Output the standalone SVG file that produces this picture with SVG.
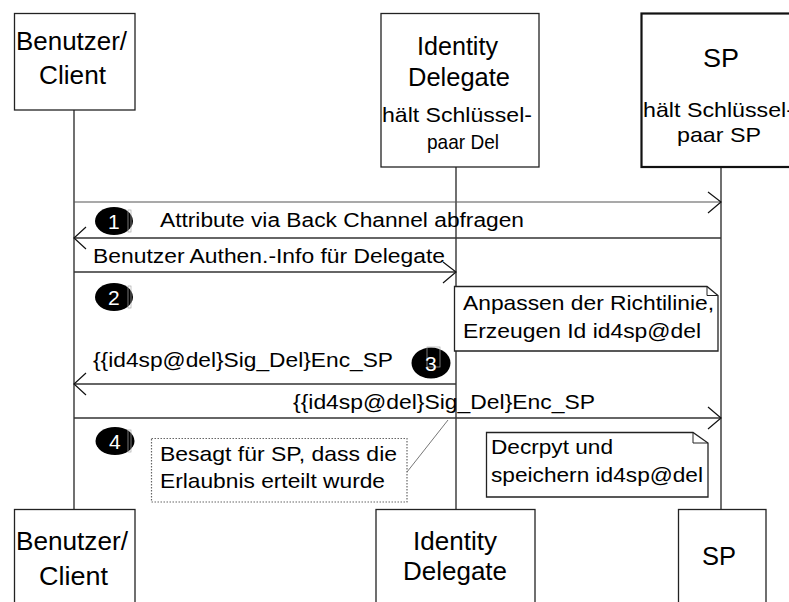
<svg xmlns="http://www.w3.org/2000/svg" width="789" height="602" viewBox="0 0 789 602">
<style>
text{font-family:"Liberation Sans",Arial,sans-serif;fill:#000}
.big{font-size:25px}
.sm{font-size:21px}
.msg{font-size:20px}
.note{font-size:21px}
.num{font-size:21px;fill:#fff}
.box{fill:#fff;stroke:#222;stroke-width:1.3}
.life{stroke:#111;stroke-width:1.2;fill:none}
.m{stroke:#333;stroke-width:1.6;fill:none}
.m1{stroke:#555;stroke-width:1.2;fill:none}
.ah{stroke:#111;stroke-width:1.2;fill:none}
.nt{fill:#fff;stroke:#222;stroke-width:1.3}
.dot{fill:#fff;stroke:#666;stroke-width:1.2;stroke-dasharray:1.5 1.5}
.badge{fill:#000}
.art{fill:none;stroke:#aaa;stroke-width:0.7}
</style>
<g id="lifelines">
<line class="life" x1="74" y1="110" x2="74" y2="509"/>
<line class="life" x1="456" y1="167" x2="456" y2="509"/>
<line class="life" x1="721" y1="167" x2="721" y2="509"/>
</g>
<g id="client-top">
<rect class="box" x="14.5" y="13.5" width="120.5" height="96.5"/>
<text class="big" x="16" y="50" textLength="111" lengthAdjust="spacingAndGlyphs">Benutzer/</text>
<text class="big" x="39" y="84" textLength="67" lengthAdjust="spacingAndGlyphs">Client</text>
</g>
<g id="delegate-top">
<rect class="box" x="381" y="13.5" width="158" height="153.5"/>
<text class="big" x="417" y="55" textLength="81" lengthAdjust="spacingAndGlyphs">Identity</text>
<text class="big" x="408" y="86" textLength="102" lengthAdjust="spacingAndGlyphs">Delegate</text>
<text class="sm" x="382" y="122" textLength="150" lengthAdjust="spacingAndGlyphs">hält Schlüssel-</text>
<text class="sm" x="427" y="149" textLength="72" lengthAdjust="spacingAndGlyphs">paar Del</text>
</g>
<g id="sp-top">
<rect class="box" x="641.5" y="13.5" width="160" height="153.5" style="stroke-width:2.2;stroke:#111"/>
<text class="big" x="703" y="67" textLength="36" lengthAdjust="spacingAndGlyphs">SP</text>
<text class="sm" x="643" y="117" textLength="151" lengthAdjust="spacingAndGlyphs">hält Schlüssel-</text>
<text class="sm" x="677" y="142" textLength="84" lengthAdjust="spacingAndGlyphs">paar SP</text>
</g>
<g id="connectors">
<line class="m1" x1="74" y1="202" x2="720" y2="202"/>
<polyline class="ah" points="708,192 721,202 708,213"/>
<line class="m" x1="721" y1="238" x2="75" y2="238"/>
<polyline class="ah" points="86,227 74,238 86,249"/>
<line class="m" x1="74" y1="272" x2="455" y2="272"/>
<polyline class="ah" points="443,262 456,272 443,283"/>
<line class="m" x1="456" y1="384" x2="75" y2="384"/>
<polyline class="ah" points="86,373 74,384 86,395"/>
<line class="m" x1="74" y1="418" x2="720" y2="418"/>
<polyline class="ah" points="708,407 721,418 708,429"/>
<line x1="448" y1="420" x2="407" y2="472" stroke="#777" stroke-width="1"/>
</g>
<g id="msg-labels">
<text class="msg" x="160" y="227" textLength="364" lengthAdjust="spacingAndGlyphs">Attribute via Back Channel abfragen</text>
<text class="msg" x="93" y="263" textLength="352" lengthAdjust="spacingAndGlyphs">Benutzer Authen.-Info für Delegate</text>
<text class="msg" x="93" y="367" textLength="300" lengthAdjust="spacingAndGlyphs">{{id4sp@del}Sig_Del}Enc_SP</text>
<text class="msg" x="293" y="409" textLength="302" lengthAdjust="spacingAndGlyphs">{{id4sp@del}Sig_Del}Enc_SP</text>
</g>
<g id="badge1">
<ellipse class="badge" cx="114" cy="221" rx="19" ry="14"/>
<rect class="art" x="128" y="210" width="3" height="22"/>
<text class="num" x="108" y="229">1</text>
</g>
<g id="badge2">
<ellipse class="badge" cx="114" cy="297" rx="19" ry="14"/>
<rect class="art" x="128" y="286" width="3" height="22"/>
<text class="num" x="108" y="305">2</text>
</g>
<g id="badge3">
<ellipse class="badge" cx="431" cy="363" rx="19.5" ry="15.5"/>
<rect class="art" x="427" y="347" width="13" height="20"/>
<text class="num" x="425" y="371">3</text>
</g>
<g id="badge4">
<ellipse class="badge" cx="115" cy="441" rx="19.5" ry="14"/>
<rect class="art" x="128" y="430" width="3" height="22"/>
<text class="num" x="109" y="449">4</text>
</g>
<g id="note-policy">
<path class="nt" d="M454.5,286.5 H707 L718,295.5 V351 H454.5 Z"/>
<path d="M707,286.5 V295.5 H718" fill="none" stroke="#222" stroke-width="1"/>
<text class="note" x="463" y="310" textLength="251" lengthAdjust="spacingAndGlyphs">Anpassen der Richtilinie,</text>
<text class="note" x="463" y="338" textLength="238" lengthAdjust="spacingAndGlyphs">Erzeugen Id id4sp@del</text>
</g>
<g id="note-permission">
<rect class="dot" x="151.5" y="438.5" width="255.5" height="63.5"/>
<text class="note" x="160" y="461" textLength="237" lengthAdjust="spacingAndGlyphs">Besagt für SP, dass die</text>
<text class="note" x="160" y="488" textLength="225" lengthAdjust="spacingAndGlyphs">Erlaubnis erteilt wurde</text>
</g>
<g id="note-decrypt">
<path class="nt" d="M486.5,432.5 H693 L708,443 V497 H486.5 Z"/>
<path d="M693,432.5 V443 H708" fill="none" stroke="#222" stroke-width="1"/>
<text class="note" x="491" y="454" textLength="122" lengthAdjust="spacingAndGlyphs">Decrpyt und</text>
<text class="note" x="491" y="482" textLength="212" lengthAdjust="spacingAndGlyphs">speichern id4sp@del</text>
</g>
<g id="client-bottom">
<rect class="box" x="14.5" y="509.5" width="120.5" height="100"/>
<text class="big" x="16" y="550" textLength="112" lengthAdjust="spacingAndGlyphs">Benutzer/</text>
<text class="big" x="39" y="585" textLength="69" lengthAdjust="spacingAndGlyphs">Client</text>
</g>
<g id="delegate-bottom">
<rect class="box" x="376" y="509.5" width="159" height="100"/>
<text class="big" x="413" y="550" textLength="84" lengthAdjust="spacingAndGlyphs">Identity</text>
<text class="big" x="403" y="580" textLength="104" lengthAdjust="spacingAndGlyphs">Delegate</text>
</g>
<g id="sp-bottom">
<rect class="box" x="678.5" y="509.5" width="87.5" height="100"/>
<text class="big" x="702" y="565" textLength="34" lengthAdjust="spacingAndGlyphs">SP</text>
</g>
</svg>
